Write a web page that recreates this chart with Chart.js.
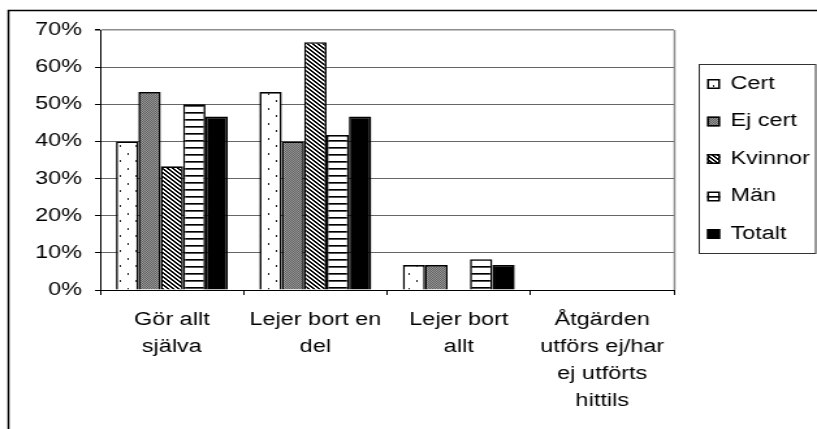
<!DOCTYPE html>
<html>
<head>
<meta charset="utf-8">
<script src="https://cdn.jsdelivr.net/npm/chart.js@4/dist/chart.umd.min.js"></script>
<style>
    html, body { margin: 0; padding: 0; background: #fff; }
    #chart { display: block; }
</style>
</head>
<body>
<canvas id="chart" width="628" height="429" style="width:817px;height:429px"></canvas>
<script>
const categories = [
    ['Gör allt', 'själva'],
    ['Lejer bort en', 'del'],
    ['Lejer bort', 'allt'],
    ['Åtgärden', 'utförs ej/har', 'ej utförts', 'hittils']
];
const seriesNames = ['Cert', 'Ej cert', 'Kvinnor', 'Män', 'Totalt'];

// percent per answer group
const cert = [40.0, 53.3, 6.7, 0];
const ejCert = [53.3, 40.0, 6.7, 0];
const kvinnor = [33.3, 66.7, 0, 0];
const man = [50.0, 41.7, 8.3, 0];
const totalt = [46.7, 46.7, 6.7, 0];

const yTicks = [0, 10, 20, 30, 40, 50, 60, 70];

const FONT = '"Liberation Sans", Arial, sans-serif';
Chart.defaults.font.family = FONT;
Chart.defaults.font.size = 18;
Chart.defaults.color = '#000';

const canvas = document.getElementById('chart');
const ctx = canvas.getContext('2d');

function makeTile(w, h, draw) {
    const c = document.createElement('canvas');
    c.width = w;
    c.height = h;
    const g = c.getContext('2d');
    draw(g, w, h);
    return ctx.createPattern(c, 'repeat');
}

// white with sparse dots
const dotted = makeTile(12, 15, (g, w, h) => {
    g.fillStyle = '#fff';
    g.fillRect(0, 0, w, h);
    g.fillStyle = '#222';
    g.fillRect(2, 3, 1, 2);
    g.fillRect(8, 10, 1, 2);
});

// fine checkerboard, kept low in contrast so it reads as an even grey
const checker = makeTile(2, 2, (g) => {
    g.fillStyle = '#9a9a9a';
    g.fillRect(0, 0, 2, 2);
    g.fillStyle = '#5e5e5e';
    g.fillRect(0, 0, 1, 1);
    g.fillRect(1, 1, 1, 1);
});

// diagonal hatching
const diagonal = makeTile(4, 4, (g) => {
    g.fillStyle = '#fff';
    g.fillRect(0, 0, 4, 4);
    g.fillStyle = '#000';
    for (let i = 0; i < 4; i++) {
        g.fillRect(i, i, 1, 1);
        g.fillRect((i + 1) % 4, i, 1, 1);
    }
});

// horizontal stripes
const striped = makeTile(1, 7, (g) => {
    g.fillStyle = '#fff';
    g.fillRect(0, 0, 1, 7);
    g.fillStyle = '#000';
    g.fillRect(0, 0, 1, 1);
    g.fillStyle = '#555';
    g.fillRect(0, 1, 1, 1);
});

const fills = [dotted, checker, diagonal, striped, '#000'];
const values = [cert, ejCert, kvinnor, man, totalt];

// outer frame and the grey plot border
const frame = {
    id: 'frame',
    beforeDraw(chart) {
        const c = chart.ctx;
        const area = chart.chartArea;
        c.save();
        c.strokeStyle = '#000';
        c.lineWidth = 1.5;
        c.beginPath();
        c.moveTo(6.5, chart.height + 2);
        c.lineTo(6.5, 10.5);
        c.lineTo(chart.width + 2, 10.5);
        c.stroke();
        c.strokeStyle = '#8c8c8c';
        c.lineWidth = 1.5;
        c.beginPath();
        c.moveTo(area.right + 0.5, area.bottom);
        c.lineTo(area.right + 0.5, area.top);
        c.stroke();
        c.restore();
    }
};

// boxed legend to the right of the plot
const boxLegend = {
    id: 'boxLegend',
    afterDraw(chart) {
        const c = chart.ctx;
        const left = chart.chartArea.right + 19.5;
        c.save();
        c.strokeStyle = '#333';
        c.lineWidth = 1;
        c.strokeRect(left, 64.5, 89.5, 189);
        c.font = '18px ' + FONT;
        c.textBaseline = 'middle';
        chart.data.datasets.forEach((ds, i) => {
            const y = 84 + i * 37.5;
            c.fillStyle = ds.backgroundColor;
            c.fillRect(left + 6, y - 5, 10, 10);
            c.strokeStyle = '#000';
            c.lineWidth = 1.5;
            c.strokeRect(left + 6.75, y - 4.25, 8.5, 8.5);
            c.fillStyle = '#000';
            c.fillText(ds.label, left + 24, y);
        });
        c.restore();
    }
};

new Chart(ctx, {
    type: 'bar',
    data: {
        labels: categories,
        datasets: seriesNames.map((name, i) => ({
            label: name,
            data: values[i],
            backgroundColor: fills[i],
            borderColor: '#000',
            borderWidth: 1.6,
            categoryPercentage: 0.78,
            barPercentage: 1
        }))
    },
    options: {
        responsive: false,
        animation: false,
        devicePixelRatio: 1,
        layout: { padding: { top: 30, right: 110, bottom: 0, left: 0 } },
        plugins: {
            legend: { display: false },
            tooltip: { enabled: false }
        },
        scales: {
            x: {
                grid: {
                    offset: true,
                    drawOnChartArea: false,
                    drawTicks: true,
                    tickLength: 5,
                    tickColor: '#000'
                },
                border: { color: '#000', width: 1 },
                ticks: {
                    padding: 11.5,
                    maxRotation: 0,
                    autoSkip: false,
                    color: '#000',
                    font: { size: 18, lineHeight: 1.5 }
                },
                afterFit(scale) { scale.height = 139; }
            },
            y: {
                min: 0,
                max: 70,
                afterBuildTicks(scale) {
                    scale.ticks = yTicks.map(v => ({ value: v }));
                },
                grid: {
                    color: c => (c.tick && c.tick.value === 70 ? '#8c8c8c' : '#666'),
                    lineWidth: c => (c.tick && c.tick.value === 70 ? 1.5 : 1),
                    tickLength: 4,
                    tickColor: '#000'
                },
                border: { color: '#000', width: 1 },
                ticks: {
                    padding: 10,
                    color: '#000',
                    font: { size: 18 },
                    callback: v => v + '%'
                },
                afterFit(scale) { scale.width = 77; }
            }
        }
    },
    plugins: [frame, boxLegend]
});
</script>
</body>
</html>
